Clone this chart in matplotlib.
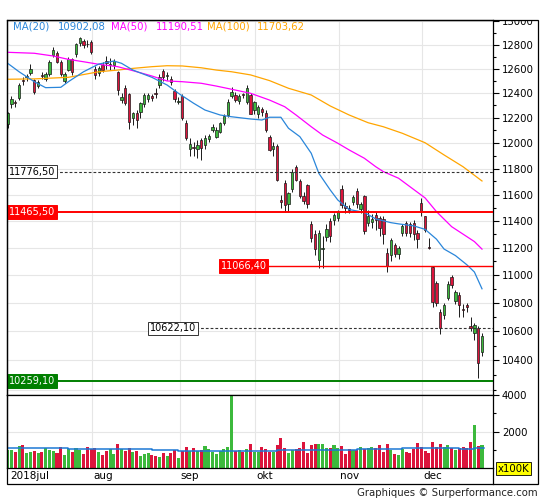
import numpy as np
import matplotlib
matplotlib.use("Agg")
import matplotlib.pyplot as plt
import matplotlib.transforms as mtransforms
from matplotlib.lines import Line2D
from matplotlib.patches import Rectangle
from matplotlib.ticker import FixedLocator, NullFormatter

# ---------------- data (DAX daily, Jul-Dec 2018) ----------------
open_ = [12152, 12310, 12330, 12360, 12512, 12530, 12565, 12508, 12460, 12550,
         12520, 12560, 12715, 12735, 12660, 12500, 12590, 12680, 12720, 12815,
         12830, 12812, 12825, 12600, 12565, 12630, 12665, 12630, 12630, 12570,
         12345, 12440, 12390, 12195, 12240, 12250, 12315, 12350, 12375, 12400,
         12465, 12580, 12540, 12515, 12420, 12330, 12380, 12160, 11950, 11970,
         11955, 12020, 11985, 12030, 12100, 12050, 12090, 12160, 12220, 12380,
         12385, 12340, 12395, 12325, 12385, 12260, 12230, 12270, 12240, 12050,
         11950, 11975, 11560, 11690, 11525, 11640, 11815, 11700, 11590, 11670,
         11374, 11301, 11110, 11190, 11280, 11400, 11410, 11425, 11640, 11510,
         11500, 11540, 11630, 11490, 11590, 11385, 11395, 11445, 11420, 11411,
         11165, 11145, 11220, 11155, 11312, 11385, 11374, 11385, 11312, 11538,
         11435, 11205, 11060, 10947, 10736, 10717, 10835, 10988, 10817, 10858,
         10757, 10787, 10640, 10590, 10625, 10460]
high = [12250, 12375, 12345, 12480, 12530, 12560, 12640, 12520, 12510, 12575,
        12570, 12675, 12780, 12745, 12670, 12570, 12700, 12690, 12820, 12870,
        12850, 12840, 12845, 12620, 12620, 12660, 12710, 12690, 12680, 12580,
        12400, 12470, 12400, 12250, 12260, 12330, 12400, 12400, 12395, 12440,
        12560, 12600, 12570, 12540, 12430, 12370, 12390, 12180, 12040, 12010,
        12020, 12040, 12060, 12075, 12150, 12130, 12170, 12230, 12350, 12450,
        12410, 12395, 12405, 12470, 12400, 12340, 12300, 12290, 12260, 12060,
        12010, 11990, 11600, 11710, 11620, 11800, 11830, 11720, 11620, 11680,
        11400, 11330, 11330, 11290, 11380, 11420, 11460, 11480, 11670, 11545,
        11520, 11600, 11650, 11540, 11600, 11480, 11450, 11470, 11440, 11440,
        11200, 11270, 11235, 11210, 11380, 11400, 11390, 11410, 11330, 11570,
        11440, 11270, 11070, 10960, 10760, 10800, 10960, 11000, 10890, 10880,
        10790, 10800, 10700, 10660, 10640, 10590]
low = [12120, 12280, 12290, 12345, 12470, 12500, 12550, 12390, 12440, 12520,
       12500, 12545, 12700, 12650, 12540, 12480, 12580, 12550, 12700, 12790,
       12770, 12780, 12720, 12520, 12540, 12570, 12600, 12590, 12600, 12385,
       12320, 12300, 12110, 12140, 12120, 12200, 12290, 12330, 12340, 12360,
       12440, 12500, 12510, 12470, 12330, 12310, 12180, 12020, 11900, 11900,
       11880, 11870, 11950, 12010, 12085, 12040, 12080, 12140, 12210, 12360,
       12330, 12310, 12360, 12310, 12230, 12230, 12200, 12215, 12090, 11935,
       11900, 11700, 11500, 11470, 11470, 11620, 11700, 11570, 11530, 11500,
       11240, 11150, 11050, 11050, 11250, 11240, 11370, 11400, 11500, 11460,
       11460, 11520, 11500, 11460, 11300, 11360, 11350, 11330, 11290, 11230,
       11020, 11100, 11130, 11120, 11290, 11290, 11280, 11260, 11200, 11440,
       11320, 11190, 10770, 10780, 10580, 10690, 10820, 10910, 10790, 10700,
       10700, 10740, 10600, 10540, 10279, 10430]
close = [12240, 12350, 12318, 12467, 12498, 12545, 12600, 12410, 12490, 12540,
         12555, 12660, 12760, 12660, 12555, 12555, 12680, 12570, 12810, 12855,
         12800, 12808, 12740, 12550, 12605, 12590, 12645, 12642, 12665, 12425,
         12370, 12320, 12165, 12240, 12180, 12320, 12385, 12385, 12362, 12394,
         12530, 12530, 12550, 12490, 12350, 12340, 12200, 12040, 11990, 11960,
         11985, 11960, 12040, 12055, 12130, 12100, 12155, 12215, 12330, 12410,
         12345, 12375, 12388, 12440, 12235, 12330, 12287, 12245, 12105, 11945,
         11977, 11713, 11540, 11520, 11610, 11776, 11713, 11590, 11550, 11525,
         11275, 11191, 11310, 11201, 11340, 11287, 11447, 11468, 11519, 11494,
         11484, 11579, 11527, 11529, 11325, 11435, 11412, 11405, 11350, 11301,
         11066, 11255, 11155, 11195, 11360, 11312, 11310, 11300, 11262, 11466,
         11335, 11200, 10811, 10800, 10622, 10787, 10940, 10928, 10877, 10783,
         10750, 10770, 10625, 10647, 10381, 10570]
volume = [990, 990, 876, 1219, 1276, 819, 876, 933, 819, 876,
          1086, 990, 933, 819, 1162, 705, 1048, 876, 1105, 990,
          762, 1162, 1029, 1105, 876, 705, 933, 1048, 762, 1333,
          1048, 933, 1105, 876, 933, 648, 762, 819, 705, 648,
          590, 819, 648, 819, 990, 533, 933, 1162, 933, 1105,
          933, 990, 1219, 1048, 876, 762, 933, 1048, 1162, 4300,
          933, 990, 876, 1048, 1333, 876, 876, 1162, 1048, 876,
          876, 1276, 1619, 1105, 819, 990, 1048, 1105, 1448, 819,
          1276, 1333, 1333, 1333, 1105, 1105, 1276, 1105, 1219, 762,
          1048, 990, 990, 1162, 1048, 1105, 1162, 1105, 1276, 876,
          1333, 990, 762, 705, 1048, 876, 819, 1048, 1390, 1162,
          933, 819, 1448, 1162, 1333, 1162, 1276, 1105, 990, 1105,
          1162, 1105, 1448, 2362, 1219, 1276]

ma20_idx = [0, 3, 7, 10, 14, 16, 20, 24, 28, 30, 33, 38, 42, 45, 49, 52, 56, 59, 64, 67,
            69, 72, 74, 77, 80, 82, 85, 87, 90, 94, 97, 101, 103, 107, 110, 113, 115, 118,
            121, 123, 125]
ma20_val = [12646, 12576, 12494, 12445, 12448, 12494, 12576, 12640, 12665, 12646,
            12590, 12530, 12467, 12399, 12318, 12263, 12223, 12209, 12191, 12183,
            12205, 12205, 12117, 12050, 11919, 11763, 11635, 11558, 11486, 11464,
            11415, 11387, 11378, 11363, 11337, 11264, 11191, 11143, 11076, 11023, 10902.08]
ma50_idx = [0, 7, 12, 16, 20, 24, 29, 33, 38, 42, 46, 51, 55, 59, 64, 69, 73, 76, 80, 83,
            87, 90, 94, 97, 99, 103, 106, 110, 113, 117, 121, 123, 125]
ma50_val = [12738, 12730, 12707, 12679, 12659, 12638, 12618, 12585, 12541, 12500,
            12494, 12481, 12458, 12432, 12399, 12344, 12290, 12223, 12129, 12063,
            11998, 11945, 11880, 11814, 11776, 11725, 11660, 11574, 11470, 11357,
            11283, 11246, 11190.51]
ma100_idx = [0, 7, 16, 24, 29, 33, 38, 42, 46, 51, 55, 59, 64, 69, 74, 80, 85, 90, 95, 99,
             104, 110, 115, 120, 125]
ma100_val = [12514, 12517, 12530, 12576, 12590, 12604, 12618, 12626, 12624, 12609,
             12590, 12576, 12550, 12503, 12440, 12385, 12296, 12223, 12161, 12129,
             12077, 12002, 11906, 11814, 11703.62]

vol_ma_start = [0, 16, 38, 45, 71, 92, 104, 107, 119, 123]
vol_ma_val = [1086, 1030, 971, 914, 971, 1048, 1086, 1105, 1048, 1105]

level_values = [11776.50, 11465.50, 11066.40, 10622.10, 10259.10]
level_labels = ["11776,50", "11465,50", "11066,40", "10622,10", "10259,10"]

month_idx = [0, 22, 45, 65, 87, 109]
month_labels = ["2018jul", "aug", "sep", "okt", "nov", "dec"]

price_ticks = [10400, 10600, 10800, 11000, 11200, 11400, 11600, 11800, 12000,
               12200, 12400, 12600, 12800, 13000]
price_minor = [10200, 10300, 10500, 10700, 10900, 11100, 11300, 11500, 11700, 11900,
               12100, 12300, 12500, 12700, 12900]
vol_ticks = [2000, 4000]
vol_minor = [1000, 3000]

legend_items = [("MA(20)", "10902,08"), ("MA(50)", "11190,51"), ("MA(100)", "11703,62")]

# ---------------- styles ----------------
GREEN = "#3CB93C"
RED = "#DC143C"
EDGE = "#1a1a1a"
GRID = "#E6E6E6"
C20, C50, C100 = "#2A86DA", "#FF00FF", "#FFA500"
FS = 7.3

W, H = 545, 500
def fx(px): return px / W
def fy(py): return 1 - py / H

fig = plt.figure(figsize=(W / 100, H / 100), dpi=100)
fig.patch.set_facecolor("white")
ax = fig.add_axes([fx(7), fy(395), fx(493) - fx(7), fy(19.5) - fy(395)])
axv = fig.add_axes([fx(7), fy(468), fx(493) - fx(7), fy(395) - fy(468)], sharex=ax)

n = len(close)
x = np.arange(n)
o = np.array(open_, float); c = np.array(close, float)
hi = np.array(high, float); lo = np.array(low, float)
up = c >= o
cols = np.where(up, GREEN, RED)

ax.set_yscale("log")
ax.set_ylim(10166, 13016)
ax.set_xlim(-0.18, 127.9)

# grid
for v in range(10200, 13001, 200):
    ax.axhline(v, color=GRID, lw=0.8, zorder=0)
for m in month_idx[1:]:
    ax.axvline(m + 0.3, color=GRID, lw=0.8, zorder=0)
    axv.axvline(m + 0.3, color=GRID, lw=0.8, zorder=0)
axv.axhline(2000, color=GRID, lw=0.8, zorder=0)

# candles
ax.vlines(x, lo, hi, color=EDGE, lw=0.7, zorder=2)
body_lo = np.minimum(o, c)
body_h = np.maximum(np.abs(c - o), 4)
ax.bar(x, body_h, bottom=body_lo, width=0.62, color=cols, edgecolor=EDGE,
       linewidth=0.5, zorder=3)

# moving averages
ax.plot(ma100_idx, ma100_val, color=C100, lw=0.9, zorder=4)
ax.plot(ma50_idx, ma50_val, color=C50, lw=0.9, zorder=4)
ax.plot(ma20_idx, ma20_val, color=C20, lw=0.9, zorder=4)

# horizontal levels
level_style = [
    dict(start=-0.05, ls=(0, (2.5, 1.8)), lw=0.8, color="#333333", fc="white", tc="black", ec="#333333"),
    dict(start=-0.05, ls="-", lw=1.4, color="#FF0000", fc="#FF0000", tc="white", ec="#FF0000"),
    dict(start=55.7, ls="-", lw=1.0, color="#FF0000", fc="#FF0000", tc="white", ec="#FF0000"),
    dict(start=37.0, ls=(0, (2.5, 1.8)), lw=0.8, color="#333333", fc="white", tc="black", ec="#333333"),
    dict(start=-0.05, ls="-", lw=1.4, color="#007F00", fc="#007F00", tc="white", ec="#007F00"),
]
for v, lab, st in zip(level_values, level_labels, level_style):
    ax.hlines(v, st["start"], 127.9, colors=st["color"], linestyles=[st["ls"]],
              lw=st["lw"], zorder=5)
    ax.text(st["start"] + 0.45, v, lab, ha="left", va="center", fontsize=7.0,
            color=st["tc"], zorder=7,
            bbox=dict(boxstyle="square,pad=0.18", fc=st["fc"], ec=st["ec"], lw=0.7))

# price ticks
ax.set_yticks(price_ticks)
ax.set_yticklabels([str(t) for t in price_ticks])
ax.yaxis.set_minor_locator(FixedLocator(price_minor))
ax.yaxis.set_minor_formatter(NullFormatter())
ax.tick_params(axis="y", which="major", direction="out", length=4, width=0.8, pad=2.5,
               labelsize=FS, left=False, labelleft=False, right=True, labelright=True)
ax.tick_params(axis="y", which="minor", direction="out", length=2.5, width=0.8,
               left=False, right=True)
ax.tick_params(axis="x", which="both", bottom=False, labelbottom=False, top=False)
clip = mtransforms.TransformedBbox(mtransforms.Bbox.from_extents(0, 0, 1, fy(19.5)),
                                   fig.transFigure)
for t in ax.yaxis.get_major_ticks():
    if t.get_loc() == 13000:
        t.label2.set_clip_box(clip)
        t.label2.set_clip_on(True)

# volume
axv.bar(x, volume, width=0.8, color=cols, zorder=2)
xs = list(vol_ma_start) + [n - 0.6]
ys = list(vol_ma_val) + [vol_ma_val[-1]]
axv.step(xs, ys, where="post", color="#1C78D4", lw=1.1, zorder=3)
axv.set_ylim(0, 4000)
axv.set_yticks(vol_ticks)
axv.set_yticklabels([str(t) for t in vol_ticks])
axv.yaxis.set_minor_locator(FixedLocator(vol_minor))
axv.yaxis.set_minor_formatter(NullFormatter())
axv.tick_params(axis="y", which="major", direction="out", length=4, width=0.8, pad=2.5,
                labelsize=FS, left=False, labelleft=False, right=True, labelright=True)
axv.tick_params(axis="y", which="minor", direction="out", length=2.5, width=0.8,
                left=False, right=True)
axv.tick_params(axis="x", which="both", bottom=False, labelbottom=False, top=False)

for a in (ax, axv):
    for s in a.spines.values():
        s.set_linewidth(0.9)
        s.set_color("black")

# month labels in the date strip
tr = mtransforms.blended_transform_factory(axv.transData, fig.transFigure)
for m, lab in zip(month_idx, month_labels):
    axv.text(m + 0.65, fy(476), lab, transform=tr, ha="left", va="center",
             fontsize=7.5, color="black", clip_on=False)

# outer frame and strip divider
fig.add_artist(Rectangle((fx(7), fy(484)), fx(538) - fx(7), fy(19.5) - fy(484),
                         transform=fig.transFigure, fill=False, ec="black", lw=0.9))
fig.add_artist(Line2D([fx(493), fx(493)], [fy(468), fy(484)], transform=fig.transFigure,
                      color="black", lw=0.9))

# x100K box
fig.text(fx(498), fy(468.5), "x100K", ha="left", va="center", fontsize=FS,
         bbox=dict(boxstyle="square,pad=0.15", fc="#FFFF00", ec="black", lw=0.6))

# legend texts at top
leg_x = [(13, 58), (111, 156), (207, 257)]
for (name, val), (x1, x2), colr in zip(legend_items, leg_x, [C20, C50, C100]):
    fig.text(fx(x1), fy(26.7), name, ha="left", va="center", fontsize=FS, color=colr)
    fig.text(fx(x2), fy(26.7), val, ha="left", va="center", fontsize=FS, color=colr)

fig.text(fx(538), fy(493), "Graphiques \u00a9 Surperformance.com", ha="right", va="center",
         fontsize=7.3, color="#222222")

fig.savefig("out.png", dpi=100, facecolor="white")
